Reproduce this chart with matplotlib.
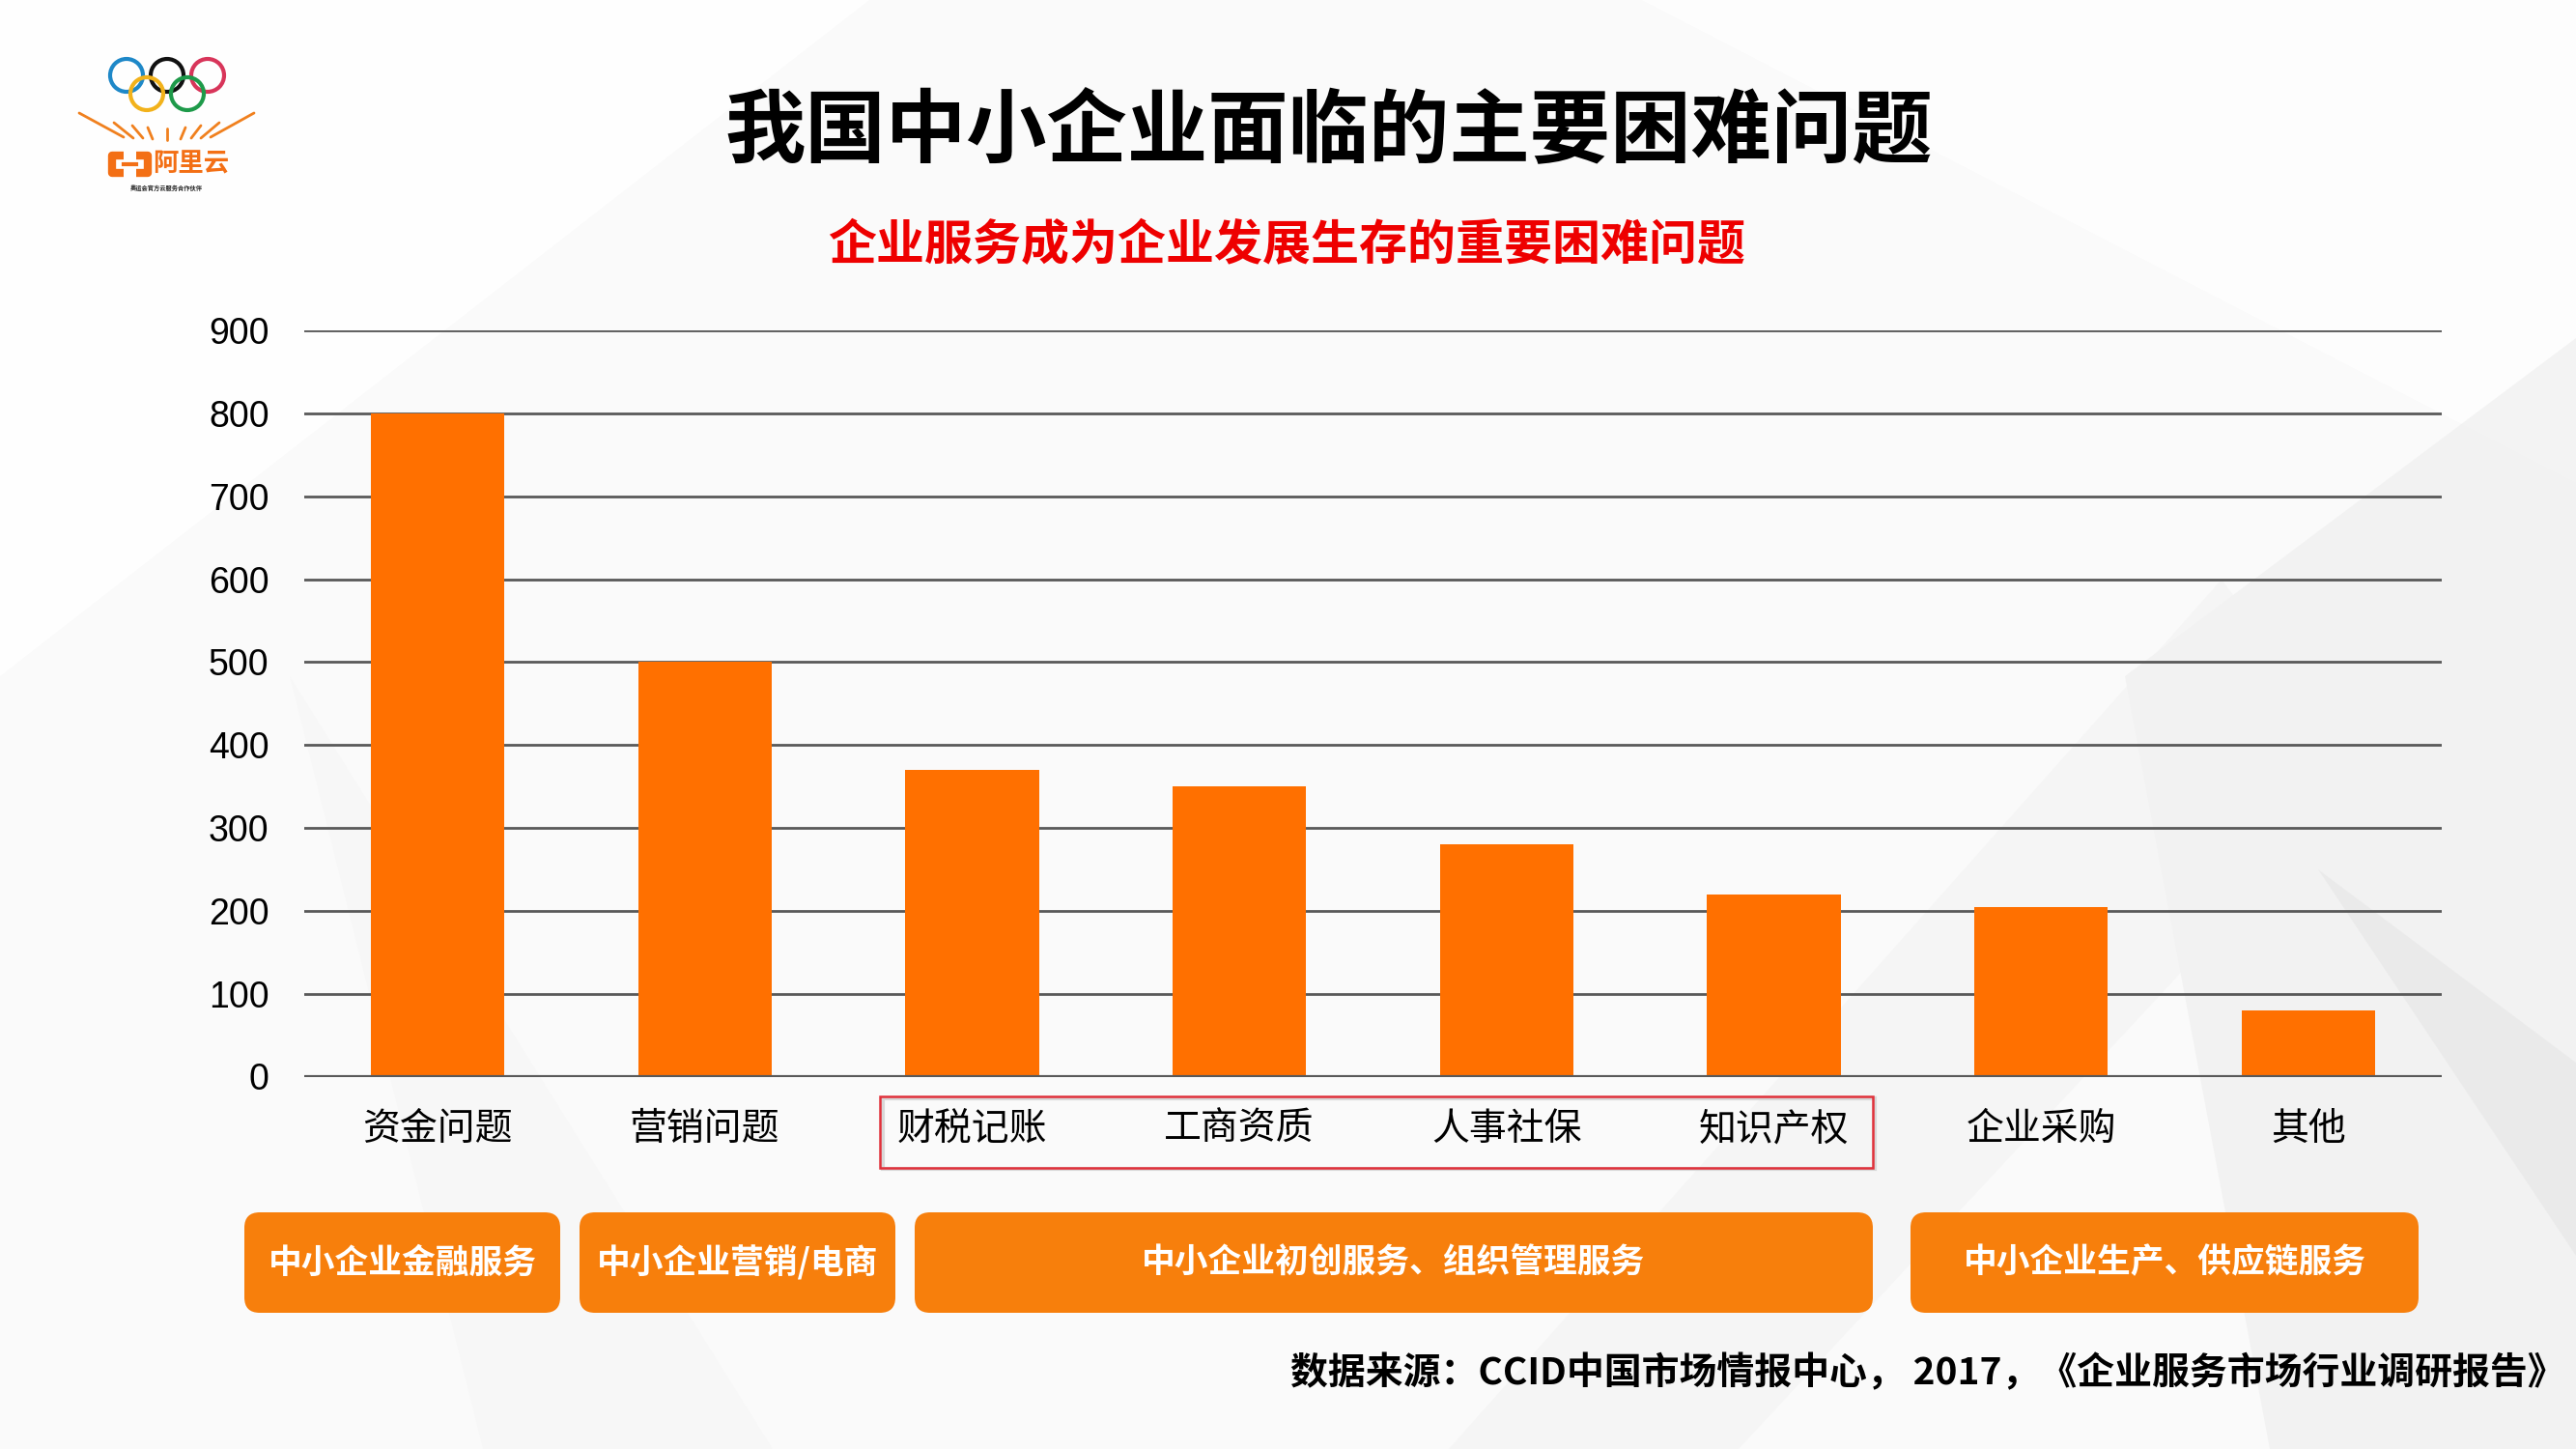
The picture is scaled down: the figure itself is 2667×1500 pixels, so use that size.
import numpy as np
import matplotlib.pyplot as plt
from matplotlib import patches, transforms
from matplotlib.lines import Line2D

plt.rcParams['font.family'] = ['Noto Sans CJK SC', 'DejaVu Sans']

# data
categories = ['资金问题', '营销问题', '财税记账', '工商资质', '人事社保', '知识产权', '企业采购', '其他']
counts = [800, 500, 370, 350, 280, 220, 205, 80]
y_ticks = [0, 100, 200, 300, 400, 500, 600, 700, 800, 900]

group_labels = ['中小企业金融服务', '中小企业营销/电商', '中小企业初创服务、组织管理服务', '中小企业生产、供应链服务']
# pixel extents (left, right) of the group boxes
group_spans = [(253, 580), (600, 927), (947, 1939), (1978, 2504)]

title = '我国中小企业面临的主要困难问题'
subtitle = '企业服务成为企业发展生存的重要困难问题'
source = '数据来源：CCID中国市场情报中心， 2017，《企业服务市场行业调研报告》'

bar_color = '#FF7000'
box_color = '#F77F0C'

fig = plt.figure(figsize=(26.67, 15), dpi=100, facecolor='#FAFAFA')

# background layer in pixel coordinates
bg = fig.add_axes([0, 0, 1, 1], zorder=0)
bg.set_xlim(0, 2667)
bg.set_ylim(1500, 0)
bg.axis('off')

shapes = [
    ([(0, 0), (900, 0), (0, 700)], '#FFFFFF', 0.9),
    ([(1700, 0), (2667, 0), (2667, 500)], '#FFFFFF', 0.8),
    ([(2200, 700), (2667, 350), (2667, 1500), (2350, 1500)], '#EFEFEF', 0.7),
    ([(1500, 1500), (2300, 600), (2450, 800), (1800, 1500)], '#F2F2F2', 0.6),
    ([(2400, 900), (2667, 1100), (2667, 1300)], '#E6E6E6', 0.6),
    ([(300, 700), (800, 1500), (500, 1500)], '#F5F5F5', 0.5),
]
for pts, c, a in shapes:
    bg.add_patch(patches.Polygon(pts, closed=True, facecolor=c, edgecolor='none', alpha=a))

# logo: rings
rings = [((131, 78), '#1E88C8'), ((173, 78), '#111111'), ((215, 78), '#D8355A'),
         ((152, 97), '#F2B21B'), ((194, 97), '#1E9A4A')]
for (cx, cy), c in rings:
    bg.add_patch(patches.Circle((cx, cy), 17, fill=False, edgecolor=c, lw=3))

rays = [((82, 117), (128, 142)), ((263, 117), (218, 142)),
        ((118, 127), (138, 143)), ((137, 130), (148, 143)), ((153, 132), (158, 144)),
        ((173, 133), (173, 145)), ((192, 132), (187, 144)), ((208, 130), (198, 143)),
        ((227, 127), (208, 143))]
for (x0, y0), (x1, y1) in rays:
    bg.add_line(Line2D([x0, x1], [y0, y1], color='#F0801E', lw=2, solid_capstyle='round'))

bg.add_line(Line2D([128, 116, 116, 128], [161, 161, 179, 179], color='#F36F15', lw=6,
                   solid_joinstyle='round', solid_capstyle='butt'))
bg.add_line(Line2D([141, 153, 153, 141], [161, 161, 179, 179], color='#F36F15', lw=6,
                   solid_joinstyle='round', solid_capstyle='butt'))
bg.add_line(Line2D([128, 141], [170, 170], color='#F36F15', lw=3))
bg.text(198, 170, '阿里云', color='#F36F15', fontsize=19, fontweight='bold', ha='center', va='center')
bg.text(172, 195, '奥运会官方云服务合作伙伴', color='#222222', fontsize=4.5, fontweight='bold',
        ha='center', va='center')

# titles
fig.text(0.516, 0.909, title, fontsize=60, fontweight='black', color='black', ha='center', va='center')
fig.text(0.4995, 0.83, subtitle, fontsize=36, fontweight='black', color='#EE0000', ha='center', va='center')

# chart
ax = fig.add_axes([0.118, 0.257, 0.830, 0.515], zorder=1)
ax.patch.set_alpha(0)
x = np.arange(len(categories))
ax.bar(x, counts, width=0.5, color=bar_color, zorder=3)
ax.set_xlim(-0.5, len(categories) - 0.5)
ax.set_ylim(0, 900)
ax.set_yticks(y_ticks)
ax.set_xticks(x, categories)
for s in ax.spines.values():
    s.set_visible(False)
ax.yaxis.grid(True, color='#595959', lw=2, zorder=1)
ax.axhline(0, color='#595959', lw=3, zorder=4)
ax.tick_params(axis='y', length=0, pad=26, labelsize=27, labelcolor='black')
ax.tick_params(axis='x', length=0, pad=25, labelsize=28, labelcolor='black')
for lbl in ax.get_yticklabels():
    lbl.set_fontfamily(['Liberation Sans', 'DejaVu Sans'])
for lbl in ax.get_xticklabels():
    lbl.set_fontweight('light')

# red frame around the middle group of labels
trans = transforms.blended_transform_factory(ax.transData, ax.transAxes)
ax.add_patch(patches.Rectangle((1.665, -0.124), 3.714, 0.095, transform=trans, fill=False,
                               edgecolor='#D8D8D8', lw=3, clip_on=False, zorder=4))
ax.add_patch(patches.Rectangle((1.656, -0.122), 3.714, 0.095, transform=trans, fill=False,
                               edgecolor='#E0303A', lw=1.8, clip_on=False, zorder=5))

# group boxes
for (l, r), lab in zip(group_spans, group_labels):
    bg.add_patch(patches.FancyBboxPatch((l, 1255), r - l, 104,
                                        boxstyle='round,pad=0,rounding_size=16',
                                        facecolor=box_color, edgecolor='none'))
    bg.text((l + r) / 2, 1307, lab, color='white', fontsize=25, fontweight='black',
            ha='center', va='center')

bg.text(2656, 1422, source, color='black', fontsize=28, fontweight='black', ha='right', va='center')

fig.savefig('out.png', dpi=100, facecolor=fig.get_facecolor())
